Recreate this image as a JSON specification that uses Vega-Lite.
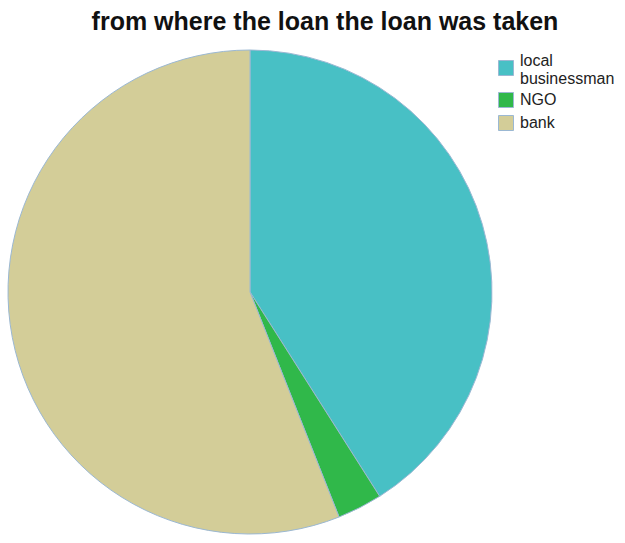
{
  "$schema": "https://vega.github.io/schema/vega-lite/v6.json",
  "width": 500,
  "height": 486,
  "autosize": {"type": "none"},
  "padding": {"left": 0, "top": 49, "right": 125, "bottom": 8},
  "background": "white",
  "title": {
    "text": "from where the loan the loan was taken",
    "font": "Liberation Sans",
    "fontSize": 25,
    "fontWeight": "bold",
    "color": "#111111",
    "anchor": "middle",
    "dx": 75,
    "offset": 13
  },
  "view": {"stroke": null},
  "data": {
    "values": [
      {"source": "local businessman", "pct": 41, "o": 1},
      {"source": "NGO", "pct": 3, "o": 2},
      {"source": "bank", "pct": 56, "o": 3}
    ]
  },
  "mark": {"type": "arc", "outerRadius": 242, "stroke": "#9bb8d3", "strokeWidth": 1},
  "encoding": {
    "theta": {"field": "pct", "type": "quantitative", "stack": true},
    "order": {"field": "o", "type": "quantitative"},
    "color": {
      "field": "source",
      "type": "nominal",
      "sort": ["local businessman", "NGO", "bank"],
      "scale": {
        "domain": ["local businessman", "NGO", "bank"],
        "range": ["#48C0C5", "#30B84A", "#D3CD98"]
      },
      "legend": {
        "title": null,
        "orient": "none",
        "legendX": 498,
        "legendY": 11,
        "symbolType": "square",
        "symbolSize": 225,
        "symbolStrokeColor": "#9bb8d3",
        "symbolStrokeWidth": 1,
        "labelFont": "Liberation Sans",
        "labelFontSize": 16,
        "labelColor": "#222222",
        "labelOffset": 6,
        "rowPadding": 3,
        "labelExpr": "datum.label == 'local businessman' ? ['local', 'businessman'] : datum.label",
        "encode": {
          "labels": {
            "update": {
              "dy": {"signal": "datum.value == 'local businessman' ? -7 : 0"}
            }
          }
        }
      }
    }
  }
}
